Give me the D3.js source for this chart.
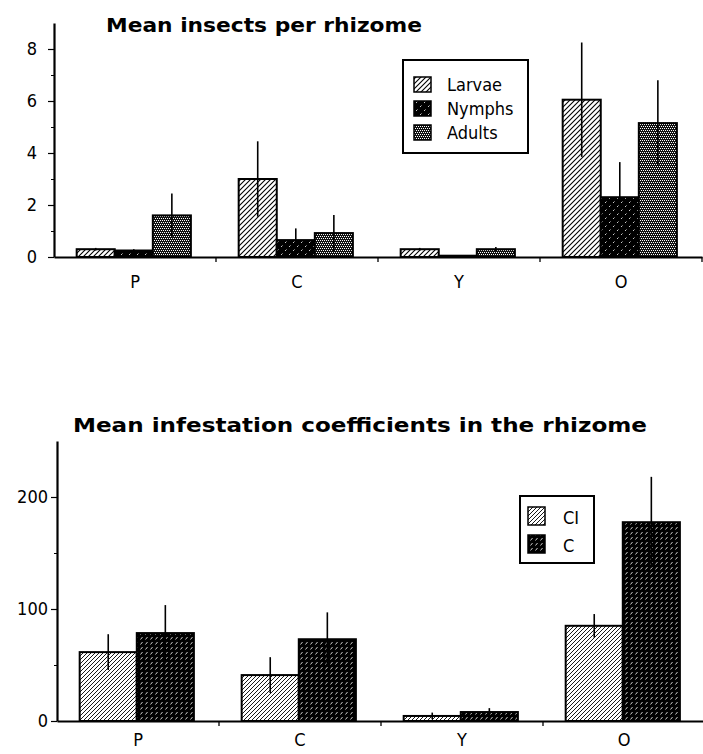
<!DOCTYPE html>
<html lang="en">
<head>
<meta charset="UTF-8">
<title>Mean insects / infestation coefficients</title>
<script src="https://cdn.jsdelivr.net/npm/d3@7"></script>
<style>
    body { margin: 0; background: #fff; }
    svg { display: block; }
    .tick text, .lbl { font-family: "DejaVu Sans Condensed", "DejaVu Sans", sans-serif; }
</style>
</head>
<body>
<script>
    // categories and series
    let cats = ["P", "C", "Y", "O"];

    let insectSeries = ["Larvae", "Nymphs", "Adults"];
    let larvae = [0.3, 3.0, 0.3, 6.05];
    let nymphs = [0.25, 0.65, 0.05, 2.3];
    let adults = [1.6, 0.92, 0.3, 5.15];
    let larvaeErr = [0.05, 1.45, 0.05, 2.2];
    let nymphsErr = [0.05, 0.45, 0.02, 1.35];
    let adultsErr = [0.84, 0.7, 0.08, 1.65];
    let insectTicks = [0, 2, 4, 6, 8];
    let insectMinor = [1, 3, 5, 7];

    let coefSeries = ["CI", "C"];
    let ciVals = [61.5, 41, 4.5, 85];
    let cVals = [78.5, 73, 8, 177.5];
    let ciErr = [16, 16, 3, 10.5];
    let cErr = [25, 24, 3.5, 40.5];
    let coefTicks = [0, 100, 200];
    let coefMinor = [50, 150];

    let width = 703, height = 754;

    let svg = d3.select("body").append("svg")
        .attr("width", width)
        .attr("height", height);

    /* fill patterns */
    let defs = svg.append("defs");
    function pattern(id, w, h, bg) {
        let p = defs.append("pattern")
            .attr("id", id)
            .attr("patternUnits", "userSpaceOnUse")
            .attr("width", w).attr("height", h);
        p.append("rect").attr("width", w).attr("height", h).attr("fill", bg);
        return p;
    }
    // larvae: white with black diagonals
    pattern("pLarvae", 5, 5, "#fff")
        .append("path")
        .attr("d", "M0,5L5,0M-1,1L1,-1M4,6L6,4")
        .attr("stroke", "#000").attr("stroke-width", 1.1);
    // nymphs: black with sparse white dashes
    let pn = pattern("pNymphs", 8, 8, "#000");
    pn.append("path").attr("d", "M1,7L2.5,5.5M5,3L6.5,1.5")
        .attr("stroke", "#fff").attr("stroke-width", 0.8);
    // adults: dark stipple
    let pa = pattern("pAdults", 4, 4, "#111");
    [[0, 0], [2, 0], [1, 2], [3, 2]].forEach(d => {
        pa.append("rect").attr("x", d[0]).attr("y", d[1])
          .attr("width", 1).attr("height", 1).attr("fill", "#fff");
    });
    // CI: white with dense diagonals
    pattern("pCI", 4, 4, "#fff")
        .append("path")
        .attr("d", "M0,4L4,0M-1,1L1,-1M3,5L5,3")
        .attr("stroke", "#000").attr("stroke-width", 0.9);
    // C: black with white diagonal dashes
    pattern("pC", 5, 5, "#000")
        .append("path").attr("d", "M0.5,4.5L2.5,2")
        .attr("stroke", "#fff").attr("stroke-width", 0.8);

    /* one grouped bar panel */
    function panel(opt) {
        let g = svg.append("g");

        let x = d3.scaleBand().domain(cats).range(opt.xRange);
        let bw = x.bandwidth();
        let xi = d3.scaleBand().domain(opt.series)
            .range([bw * 0.14, bw * 0.845]);
        let y = d3.scaleLinear().domain(opt.yDomain).range(opt.yRange);

        // bars
        opt.series.forEach((s, k) => {
            let vals = opt.values[k], errs = opt.errors[k];
            let bars = g.append("g");
            bars.selectAll("rect")
                .data(cats)
                .enter().append("rect")
                .attr("x", c => x(c) + xi(s))
                .attr("y", (c, i) => y(vals[i]))
                .attr("width", xi.bandwidth())
                .attr("height", (c, i) => y(0) - y(vals[i]))
                .attr("fill", `url(#${opt.fills[k]})`)
                .attr("stroke", "#000")
                .attr("stroke-width", 2);
            bars.selectAll("line")
                .data(cats)
                .enter().append("line")
                .attr("x1", c => x(c) + xi(s) + xi.bandwidth() / 2)
                .attr("x2", c => x(c) + xi(s) + xi.bandwidth() / 2)
                .attr("y1", (c, i) => y(vals[i] - errs[i]))
                .attr("y2", (c, i) => y(vals[i] + errs[i]))
                .attr("stroke", "#000")
                .attr("stroke-width", 1.6);
        });

        // y axis
        let yAxis = g.append("g")
            .attr("transform", `translate(${opt.xRange[0]},0)`)
            .call(d3.axisLeft(y).tickValues(opt.ticks).tickSize(6)
                .tickPadding(opt.tickPad).tickSizeOuter(0));
        yAxis.select(".domain").attr("stroke-width", 2.2);
        yAxis.selectAll(".tick line").attr("stroke-width", 1.2);
        yAxis.selectAll(".tick text").attr("font-size", 18).attr("fill", "#000");
        g.append("g")
            .attr("transform", `translate(${opt.xRange[0]},0)`)
            .call(d3.axisLeft(y).tickValues(opt.minor).tickSize(3)
                .tickFormat("").tickSizeOuter(0))
            .call(a => a.select(".domain").remove());

        // x axis
        let xAxis = g.append("g")
            .attr("transform", `translate(0,${y(0)})`)
            .call(d3.axisBottom(x).tickSize(0).tickPadding(opt.xPad).tickSizeOuter(0));
        xAxis.select(".domain").attr("stroke-width", 2.2);
        xAxis.selectAll(".tick text").attr("font-size", 18).attr("fill", "#000");
        g.selectAll(".bound")
            .data(cats.slice(1).concat(["end"]))
            .enter().append("line")
            .attr("class", "bound")
            .attr("x1", c => c === "end" ? opt.xRange[1] : x(c))
            .attr("x2", c => c === "end" ? opt.xRange[1] : x(c))
            .attr("y1", y(0))
            .attr("y2", y(0) + 5)
            .attr("stroke", "#000")
            .attr("stroke-width", 1.3);

        // title
        g.append("text")
            .attr("x", opt.title.x)
            .attr("y", opt.title.y)
            .attr("font-family", "DejaVu Sans, sans-serif")
            .attr("font-weight", "bold")
            .attr("font-size", 20)
            .attr("textLength", opt.title.len)
            .attr("lengthAdjust", "spacingAndGlyphs")
            .text(opt.title.text);

        // legend
        let L = opt.legend;
        let lg = g.append("g").attr("transform", `translate(${L.x},${L.y})`);
        lg.append("rect")
            .attr("width", L.w).attr("height", L.h)
            .attr("fill", "#fff").attr("stroke", "#000").attr("stroke-width", 2);
        opt.series.forEach((s, k) => {
            lg.append("rect")
                .attr("x", L.sx).attr("y", L.sy + k * L.step)
                .attr("width", L.sw).attr("height", L.sh)
                .attr("fill", `url(#${opt.fills[k]})`)
                .attr("stroke", "#000").attr("stroke-width", 1.5);
            lg.append("text")
                .attr("class", "lbl")
                .attr("x", L.tx).attr("y", L.sy + k * L.step + L.sh - 1)
                .attr("font-size", 18)
                .text(s);
        });
    }

    panel({
        series: insectSeries,
        values: [larvae, nymphs, adults],
        errors: [larvaeErr, nymphsErr, adultsErr],
        fills: ["pLarvae", "pNymphs", "pAdults"],
        xRange: [54, 702],
        yDomain: [0, 9],
        yRange: [257, 23],
        ticks: insectTicks,
        minor: insectMinor,
        tickPad: 11,
        xPad: 18,
        title: { text: "Mean insects per rhizome", x: 106, y: 32, len: 316 },
        legend: { x: 403, y: 60, w: 125, h: 93, sx: 11, sy: 17, sw: 17, sh: 15, step: 24, tx: 44 }
    });

    panel({
        series: coefSeries,
        values: [ciVals, cVals],
        errors: [ciErr, cErr],
        fills: ["pCI", "pC"],
        xRange: [57, 705],
        yDomain: [0, 250],
        yRange: [721, 441],
        ticks: coefTicks,
        minor: coefMinor,
        tickPad: 3,
        xPad: 12,
        title: { text: "Mean infestation coefficients in the rhizome", x: 73, y: 432, len: 574 },
        legend: { x: 520, y: 496, w: 74, h: 67, sx: 8, sy: 11, sw: 17, sh: 18, step: 28, tx: 43 }
    });
</script>
</body>
</html>
